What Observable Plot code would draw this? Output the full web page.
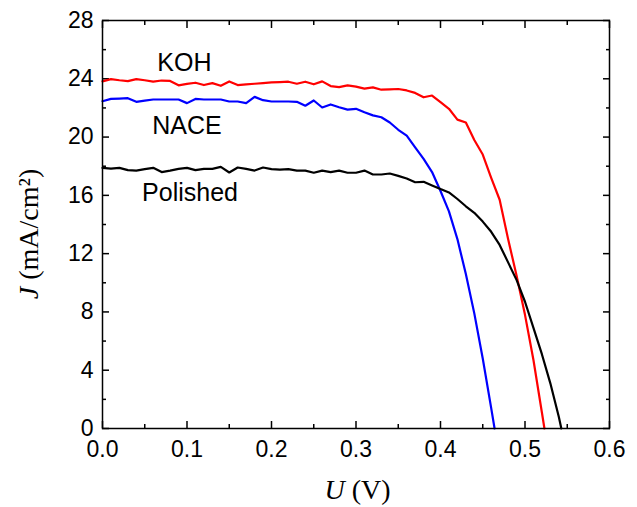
<!DOCTYPE html>
<html>
<head>
<meta charset="utf-8">
<script src="https://cdn.jsdelivr.net/npm/d3@7"></script>
<script src="https://cdn.jsdelivr.net/npm/@observablehq/plot@0.6"></script>
<style>
  html, body { margin: 0; padding: 0; background: #fff; }
  #chart { width: 637px; height: 507px; }
</style>
</head>
<body>
<div id="chart"></div>
<script>
// ---- data ----
const kohU = [0,0.01,0.02,0.03,0.04,0.05,0.06,0.07,0.08,0.09,0.10,0.11,0.12,0.13,0.14,0.15,0.16,0.17,0.18,0.19,0.20,0.21,0.22,0.23,0.24,0.25,0.26,0.27,0.28,0.29,0.30,0.31,0.32,0.33,0.34,0.35,0.36,0.37,0.38,0.39,0.40,0.41,0.42,0.43,0.44,0.45,0.46,0.47,0.48,0.49,0.50,0.51,0.52,0.523];
const kohJ = [23.82,23.98,23.9,23.84,23.98,23.9,23.8,23.88,23.85,23.55,23.65,23.73,23.57,23.7,23.52,23.82,23.57,23.62,23.66,23.7,23.75,23.77,23.8,23.66,23.8,23.62,23.82,23.5,23.43,23.55,23.46,23.32,23.41,23.25,23.28,23.3,23.2,23.03,22.73,22.85,22.4,21.94,21.2,21.0,19.8,18.8,17.2,15.7,13.0,10.5,7.8,4.7,1.1,0];

const naceU = [0,0.01,0.02,0.03,0.04,0.05,0.06,0.07,0.08,0.09,0.10,0.11,0.12,0.13,0.14,0.15,0.16,0.17,0.18,0.19,0.20,0.21,0.22,0.23,0.24,0.25,0.26,0.27,0.28,0.29,0.30,0.31,0.32,0.33,0.34,0.35,0.36,0.37,0.38,0.39,0.40,0.41,0.42,0.43,0.44,0.45,0.46,0.464];
const naceJ = [22.46,22.62,22.64,22.67,22.42,22.5,22.58,22.58,22.58,22.58,22.33,22.62,22.58,22.58,22.58,22.44,22.44,22.33,22.76,22.53,22.44,22.44,22.44,22.42,22.15,22.51,22.03,22.24,22.05,21.88,21.94,21.7,21.49,21.36,21.0,20.5,20.1,19.3,18.5,17.6,16.3,14.9,13.0,10.6,7.9,4.8,1.4,0];

const polU = [0,0.01,0.02,0.03,0.04,0.05,0.06,0.07,0.08,0.09,0.10,0.11,0.12,0.13,0.14,0.15,0.16,0.17,0.18,0.19,0.20,0.21,0.22,0.23,0.24,0.25,0.26,0.27,0.28,0.29,0.30,0.31,0.32,0.33,0.34,0.35,0.36,0.37,0.38,0.39,0.40,0.41,0.42,0.43,0.44,0.45,0.46,0.47,0.48,0.49,0.50,0.51,0.52,0.53,0.54,0.543];
const polJ = [17.89,17.84,17.89,17.73,17.7,17.8,17.89,17.6,17.7,17.82,17.89,17.73,17.82,17.82,17.95,17.57,17.91,17.82,17.7,17.91,17.8,17.77,17.8,17.7,17.7,17.55,17.7,17.6,17.7,17.55,17.55,17.7,17.43,17.43,17.5,17.34,17.16,16.9,16.93,16.68,16.43,16.2,15.75,15.25,14.8,14.2,13.5,12.6,11.4,10.2,8.7,6.9,5.1,3.1,0.8,0];

const seriesNames = ["KOH", "NACE", "Polished"];
const seriesColors = ["#ff0000", "#0000ff", "#000000"];
const labelU = [0.097, 0.100, 0.1036];
const labelJ = [25.08, 20.76, 16.16];

const xMajor = [0, 0.1, 0.2, 0.3, 0.4, 0.5, 0.6];
const xMinor = [0.05, 0.15, 0.25, 0.35, 0.45, 0.55];
const yMajor = [0, 4, 8, 12, 16, 20, 24, 28];
const yMinor = [2, 6, 10, 14, 18, 22, 26];
const xTickLabels = ["0.0", "0.1", "0.2", "0.3", "0.4", "0.5", "0.6"];

// ---- build tables ----
const toRows = (U, J, name) => U.map((u, i) => ({U: u, J: J[i], series: name}));
const rows = [
  ...toRows(kohU, kohJ, "KOH"),
  ...toRows(naceU, naceJ, "NACE"),
  ...toRows(polU, polJ, "Polished")
];
const labels = seriesNames.map((n, i) => ({name: n, U: labelU[i], J: labelJ[i]}));

const sans = "'Liberation Sans', Arial, Helvetica, sans-serif";
const tickW = 1.5;

const plot = Plot.plot({
  width: 637,
  height: 507,
  marginLeft: 102,
  marginRight: 28,
  marginTop: 20,
  marginBottom: 79,
  style: {fontFamily: sans, fontSize: "23px", color: "#000", background: "#fff", overflow: "visible"},
  x: {domain: [0, 0.6]},
  y: {domain: [0, 28]},
  color: {domain: seriesNames, range: seriesColors},
  marks: [
    // tick labels
    Plot.axisX(xMajor, {anchor: "bottom", tickSize: 0, tickPadding: 12, tickFormat: (d, i) => xTickLabels[i], label: null, fontSize: 23}),
    Plot.axisY(yMajor, {anchor: "left", tickSize: 0, tickPadding: 9, label: null, fontSize: 23}),
    // inward ticks, all four sides
    Plot.axisX(xMajor, {anchor: "bottom", tickSize: -7, fill: "none", label: null, strokeWidth: tickW}),
    Plot.axisX(xMinor, {anchor: "bottom", tickSize: -4, fill: "none", label: null, strokeWidth: tickW}),
    Plot.axisX(xMajor, {anchor: "top", tickSize: -7, fill: "none", label: null, strokeWidth: tickW}),
    Plot.axisX(xMinor, {anchor: "top", tickSize: -4, fill: "none", label: null, strokeWidth: tickW}),
    Plot.axisY(yMajor, {anchor: "left", tickSize: -7, fill: "none", label: null, strokeWidth: tickW}),
    Plot.axisY(yMinor, {anchor: "left", tickSize: -4, fill: "none", label: null, strokeWidth: tickW}),
    Plot.axisY(yMajor, {anchor: "right", tickSize: -7, fill: "none", label: null, strokeWidth: tickW}),
    Plot.axisY(yMinor, {anchor: "right", tickSize: -4, fill: "none", label: null, strokeWidth: tickW}),
    // curves
    Plot.line(rows, {x: "U", y: "J", z: "series", stroke: "series", strokeWidth: 2.2, strokeLinejoin: "round"}),
    // series labels
    Plot.text(labels, {x: "U", y: "J", text: "name", fontSize: 25, textAnchor: "middle", lineAnchor: "middle", fill: "#000"}),
    Plot.frame({stroke: "#000", strokeWidth: 1.5})
  ]
});

document.getElementById("chart").appendChild(plot);

// ---- axis titles (mixed italic / roman text) ----
const svg = d3.select(plot);
const sx = plot.scale("x"), sy = plot.scale("y");
const xMid = (sx.range[0] + sx.range[1]) / 2;
const yMid = (sy.range[0] + sy.range[1]) / 2;
const serif = "'Liberation Serif', 'Times New Roman', Times, serif";

const xt = svg.append("text")
  .attr("x", xMid + 2).attr("y", 499)
  .attr("text-anchor", "middle")
  .attr("font-family", serif).attr("font-size", 28).attr("fill", "#000");
xt.append("tspan").attr("font-style", "italic").text("U");
xt.append("tspan").text(" (V)");

const yt = svg.append("text")
  .attr("transform", `translate(38,${yMid + 10}) rotate(-90)`)
  .attr("text-anchor", "middle")
  .attr("font-family", serif).attr("font-size", 28).attr("fill", "#000");
yt.append("tspan").attr("font-style", "italic").text("J");
yt.append("tspan").text(" (mA/cm²)");
</script>
</body>
</html>
